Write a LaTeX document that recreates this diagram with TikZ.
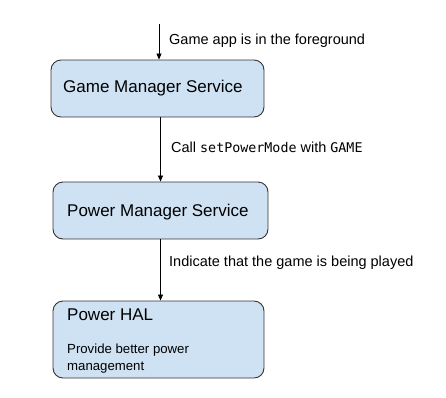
\documentclass[tikz,border=0pt]{standalone}
\usepackage{fontspec}
\setmainfont{Liberation Sans}
\newfontfamily\codefont{DejaVu Sans Mono}[Scale=0.92]
\usetikzlibrary{arrows.meta}
\definecolor{boxblue}{HTML}{CFE2F3}
\definecolor{boxline}{HTML}{333333}
\tikzset{
  svcbox/.style={draw=boxline, fill=boxblue, rounded corners=10pt, line width=0.9pt, inner sep=0pt},
  title/.style={anchor=west, inner sep=0pt, font=\fontsize{17}{20}\selectfont},
  lbl/.style={anchor=west, inner sep=0pt, font=\fontsize{14.5}{17}\selectfont},
  small/.style={anchor=north west, inner sep=0pt, align=left, font=\fontsize{13.2}{17}\selectfont},
  flow/.style={draw=black, line width=0.8pt, -{Triangle[length=6pt,width=5pt]}}
}
\begin{document}
\begin{tikzpicture}[x=1pt,y=-1pt]
\useasboundingbox (0,0) rectangle (446,397);
\node[svcbox, minimum width=213pt, minimum height=57pt] (b1) at (157.5,88.5) {};
\node[svcbox, minimum width=215pt, minimum height=57pt] (b2) at (160.5,210.5) {};
\node[svcbox, minimum width=211pt, minimum height=77pt] (b3) at (158.5,339.5) {};
\node[title] (t1) at (63,88.5) {Game Manager Service};
\node[title] (t2) at (67,212) {Power Manager Service};
\node[title] (t3) at (67,315) {Power HAL};
\node[small] (d3) at (67,344) {Provide better power\\management};
\coordinate (start) at (159,24);
\draw[flow] (start) -- (start |- b1.north);
\draw[flow] (b2.north |- b1.south) -- (b2.north);
\draw[flow] (b2.south) -- (b2.south |- b3.north);
\node[lbl] (l1) at (169,41) {Game app is in the foreground};
\node[lbl] (l2) at (171,147) {Call {\codefont setPowerMode} with {\codefont GAME}};
\node[lbl] (l3) at (169,263) {Indicate that the game is being played};
\end{tikzpicture}
\end{document}
